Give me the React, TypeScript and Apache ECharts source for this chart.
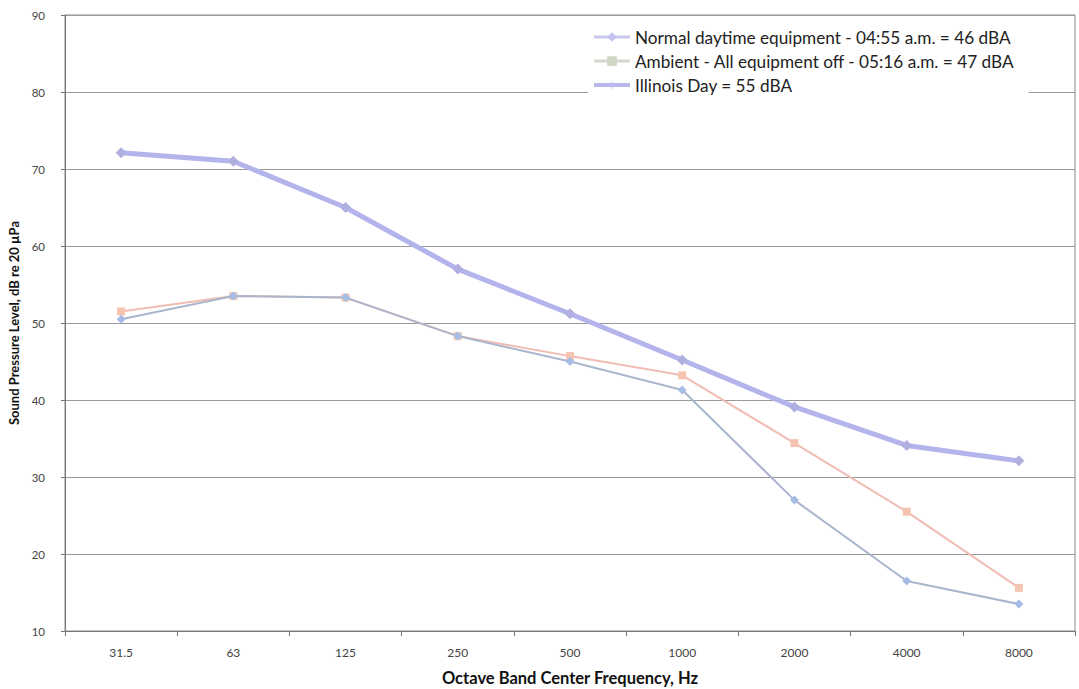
import React, { useEffect, useRef } from "react";
import * as echarts from "echarts";

const categories = ["31.5", "63", "125", "250", "500", "1000", "2000", "4000", "8000"];
const normalDaytime = [50.5, 53.5, 53.3, 48.3, 45.0, 41.3, 27.0, 16.5, 13.5];
const ambient = [51.5, 53.5, 53.3, 48.3, 45.7, 43.2, 34.4, 25.5, 15.6];
const illinoisDay = [72.1, 71.0, 65.0, 57.0, 51.2, 45.2, 39.1, 34.1, 32.1];
const yTicks = { min: 10, max: 90, interval: 10 };

const seriesNames = [
  "Normal daytime equipment - 04:55 a.m. = 46 dBA",
  "Ambient - All equipment off - 05:16 a.m. = 47 dBA",
  "Illinois Day = 55 dBA",
];

export default function App() {
  const ref = useRef<HTMLDivElement>(null);
  useEffect(() => {
    if (!ref.current) return;
    const chart = echarts.init(ref.current, null, { renderer: "svg" });
    const font = "Lato, 'Open Sans', sans-serif";
    chart.setOption({
      animation: false,
      backgroundColor: "#ffffff",
      textStyle: { fontFamily: font },
      grid: {
        left: 65,
        right: 4,
        top: 15,
        bottom: 58,
        outerBoundsMode: "none",
        containLabel: false,
        show: true,
        borderColor: "#8a8a8a",
        borderWidth: 1,
      },
      legend: {
        orient: "vertical",
        left: 588,
        top: 26,
        itemWidth: 36,
        itemHeight: 12,
        itemGap: 6,
        padding: [2, 14, 6, 4],
        backgroundColor: "#ffffff",
        textStyle: { fontSize: 17.2, color: "#222", fontFamily: font, lineHeight: 18 },
        data: [
          { name: seriesNames[0], itemStyle: { color: "#c3c3f2" }, lineStyle: { color: "#c9c9f0", width: 3 } },
          { name: seriesNames[1], itemStyle: { color: "#cfd6c4" }, lineStyle: { color: "#d4d8cc", width: 3 } },
          { name: seriesNames[2], itemStyle: { color: "#c0c0ee", opacity: 0.3 }, lineStyle: { color: "#b7b7ea", width: 4 } },
        ],
      },
      xAxis: {
        type: "category",
        data: categories,
        boundaryGap: true,
        name: "Octave Band Center Frequency, Hz",
        nameLocation: "middle",
        nameGap: 38,
        nameTextStyle: { fontSize: 16.5, fontWeight: "bold", color: "#111", fontFamily: font },
        axisLine: { lineStyle: { color: "#777", width: 1 } },
        axisTick: { show: true, length: 5, lineStyle: { color: "#777" } },
        axisLabel: { fontSize: 12, color: "#444", margin: 15 },
        splitLine: { show: false },
      },
      yAxis: {
        type: "value",
        min: yTicks.min,
        max: yTicks.max,
        interval: yTicks.interval,
        name: "Sound Pressure Level, dB re 20 µPa",
        nameLocation: "middle",
        nameGap: 42,
        nameRotate: 90,
        nameTextStyle: { fontSize: 13, fontWeight: "bold", color: "#111", fontFamily: font },
        axisLine: { show: true, lineStyle: { color: "#777", width: 1 } },
        axisTick: { show: true, length: 4, lineStyle: { color: "#777" } },
        axisLabel: { fontSize: 11.5, color: "#444", margin: 20 },
        splitLine: { show: true, lineStyle: { color: "#9a9a9a", width: 1 } },
      },
      series: [
        {
          name: seriesNames[0],
          type: "line",
          data: normalDaytime,
          symbol: "diamond",
          symbolSize: 9,
          itemStyle: { color: "#a5bde6" },
          lineStyle: { color: "#aab6cc", width: 2 },
          z: 3,
        },
        {
          name: seriesNames[1],
          type: "line",
          data: ambient,
          symbol: "rect",
          symbolSize: 8,
          itemStyle: { color: "#f5c4b0" },
          lineStyle: { color: "#f0bcb4", width: 2 },
          z: 2,
        },
        {
          name: seriesNames[2],
          type: "line",
          data: illinoisDay,
          symbol: "diamond",
          symbolSize: 11,
          itemStyle: { color: "#b0b0e0" },
          lineStyle: { color: "#b4b4ec", width: 5 },
          z: 4,
        },
      ],
    });
    return () => chart.dispose();
  }, []);
  return <div ref={ref} style={{ width: 1079, height: 689, position: "absolute", left: 0, top: 0 }} />;
}
